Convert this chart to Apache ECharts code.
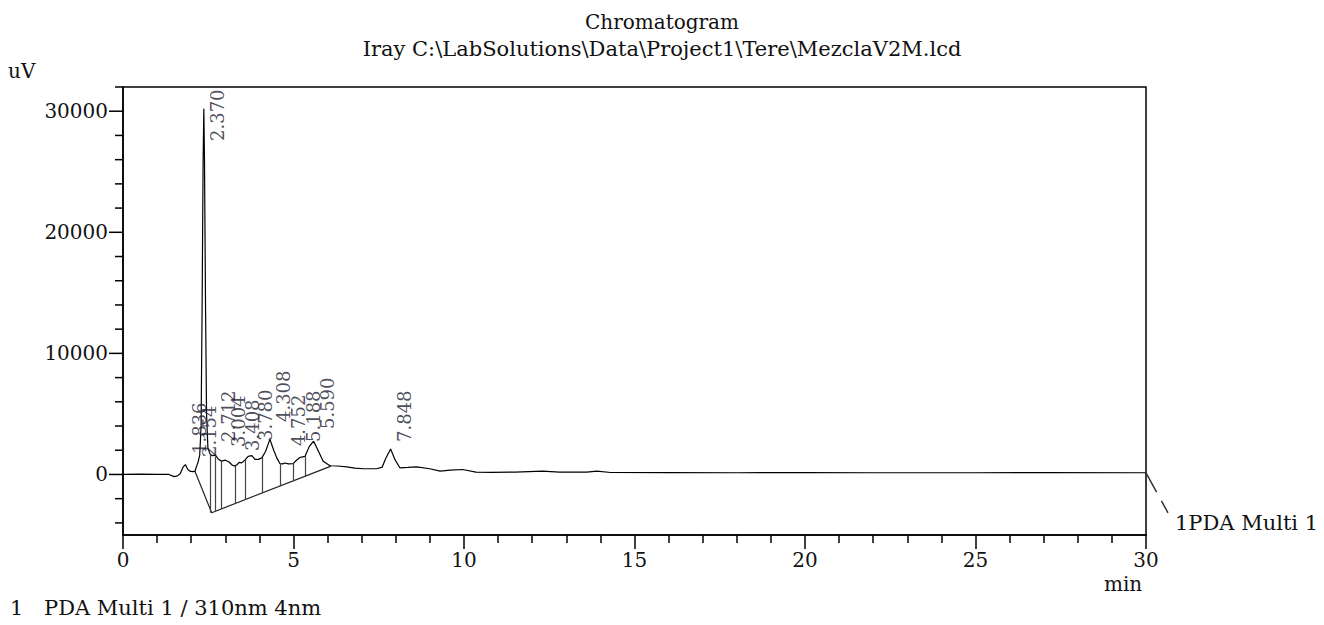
<!DOCTYPE html>
<html>
<head>
<meta charset="utf-8">
<title>Chromatogram</title>
<script src="https://cdn.jsdelivr.net/npm/echarts@6.0.0/dist/echarts.min.js"></script>
<style>
  html, body { margin: 0; padding: 0; background: #fff; }
  #chart { width: 1324px; height: 625px; }
</style>
</head>
<body>
<div id="chart"></div>
<script>
// detector trace: time (min) and signal (uV)
const signalTime = [
  0.00, 0.50, 1.00, 1.35, 1.50, 1.60, 1.68, 1.76, 1.83, 1.90, 1.98, 2.06, 2.11,
  2.154, 2.20, 2.25, 2.29, 2.32, 2.35, 2.37, 2.39, 2.42, 2.45, 2.49, 2.55, 2.62,
  2.712, 2.80, 2.89, 3.004, 3.10, 3.20, 3.28, 3.34, 3.408, 3.48, 3.58, 3.67, 3.78,
  3.87, 3.97, 4.07, 4.18, 4.308, 4.42, 4.51, 4.60, 4.68, 4.752, 4.85, 4.99, 5.08,
  5.188, 5.26, 5.34, 5.46, 5.59, 5.70, 5.87, 6.07, 6.30, 6.56, 6.80, 7.05, 7.44,
  7.60, 7.70, 7.848, 7.98, 8.12, 8.35, 8.61, 9.00, 9.30, 9.60, 9.96, 10.35, 10.80,
  11.50, 12.30, 12.80, 13.60, 13.90, 14.30, 16.00, 18.00, 20.00, 22.00, 25.00,
  27.00, 30.00
];
const signalUv = [
  0, 20, 10, 0, -180, -120, 80, 600, 820, 400, 250, 230, 270,
  650, 1000, 1600, 4000, 14000, 26000, 30200, 26000, 14000, 5000, 2200, 1700, 1550,
  1600, 1250, 1100, 1180, 1050, 780, 690, 800, 1000, 960, 1200, 1500, 1550,
  1240, 1250, 1370, 1900, 2900, 2000, 1370, 900, 870, 950, 880, 900, 1150,
  1400, 1450, 1500, 2300, 2750, 2100, 1100, 720, 700, 630, 520, 470, 470,
  600, 1300, 2100, 1200, 550, 580, 630, 470, 280, 350, 410, 200, 180,
  200, 275, 200, 190, 280, 160, 150, 140, 150, 140, 140,
  150, 140
];

// peak retention times and the level where each label starts
const peakNames = ['1.836', '2.154', '2.370', '2.712', '3.004', '3.408', '3.780', '4.308', '4.752', '5.188', '5.590', '7.848'];
const labelLevel = [1650, 1400, 27500, 2640, 2230, 1900, 2720, 4290, 2300, 2640, 3710, 2640];

// integration baseline drawn under the peak cluster
const baseTime = [2.11, 2.60, 6.10];
const baseUv = [270, -3160, 690];

// vertical drop lines between trace and baseline
const dropTime = [2.57, 2.70, 2.89, 3.28, 3.58, 4.07, 4.60, 4.99, 5.34];
const dropTop = [1650, 1500, 1100, 690, 1200, 1370, 900, 900, 1500];
const dropBottom = [-3150, -3050, -2835, -2415, -2095, -1560, -975, -545, -175];

// axis ticks
const xLabels = [0, 5, 10, 15, 20, 25, 30];
const yLabels = [0, 10000, 20000, 30000];
const yMinor = [-4000, -2000, 2000, 4000, 6000, 8000, 12000, 14000, 16000, 18000,
  22000, 24000, 26000, 28000, 32000];

const FONT = '"DejaVu Serif", "Liberation Serif", serif';
const INK = '#111';
const AXIS = { color: '#000', width: 1.5 };

const chart = echarts.init(document.getElementById('chart'), null, { renderer: 'svg' });

const trace = signalTime.map((t, i) => [t, signalUv[i]]);

chart.setOption({
  animation: false,
  backgroundColor: '#fff',
  title: [
    {
      text: 'Chromatogram',
      left: 'center',
      top: 7,
      textStyle: { fontFamily: FONT, fontSize: 20, fontWeight: 'normal', color: INK }
    },
    {
      text: 'Iray C:\\LabSolutions\\Data\\Project1\\Tere\\MezclaV2M.lcd',
      left: 'center',
      top: 33,
      textStyle: { fontFamily: FONT, fontSize: 21, fontWeight: 'normal', color: INK }
    }
  ],
  grid: {
    left: 123, right: 178, top: 87, bottom: 90,
    show: true,
    borderColor: '#000',
    borderWidth: 1.5
  },
  xAxis: {
    type: 'value',
    min: 0,
    max: 30,
    interval: 5,
    axisLine: { show: true, onZero: false, lineStyle: AXIS },
    axisTick: { show: true, length: 14, lineStyle: AXIS },
    minorTick: { show: true, splitNumber: 5, length: 8, lineStyle: AXIS },
    axisLabel: {
      customValues: xLabels,
      margin: 15,
      fontFamily: FONT, fontSize: 20, color: INK
    },
    splitLine: { show: false }
  },
  yAxis: {
    type: 'value',
    min: -5000,
    max: 32000,
    position: 'left',
    axisLine: { show: true, onZero: false, lineStyle: AXIS },
    axisTick: { show: false },
    axisLabel: {
      customValues: yLabels,
      formatter: v => String(v),
      margin: 15,
      fontFamily: FONT, fontSize: 20, color: INK
    },
    splitLine: { show: false }
  },
  series: [
    {
      name: 'PDA Multi 1',
      type: 'line',
      data: trace,
      showSymbol: false,
      lineStyle: { color: '#000', width: 1.2 },
      z: 4
    },
    {
      name: 'baseline',
      type: 'line',
      data: baseTime.map((t, i) => [t, baseUv[i]]),
      showSymbol: false,
      lineStyle: { color: '#222', width: 1.2 },
      markLine: {
        silent: true,
        symbol: 'none',
        label: { show: false },
        lineStyle: { color: '#444', width: 1.2, type: 'solid' },
        data: dropTime.map((t, i) => [
          { coord: [t, dropTop[i]] },
          { coord: [t, dropBottom[i]] }
        ])
      },
      z: 3
    },
    {
      name: 'peaks',
      type: 'scatter',
      data: peakNames.map((p, i) => ({ name: p, value: [parseFloat(p), labelLevel[i]] })),
      symbolSize: 1,
      itemStyle: { color: 'rgba(0,0,0,0)' },
      label: {
        show: true,
        formatter: '{b}',
        rotate: 90,
        position: [14, 0],
        align: 'left',
        verticalAlign: 'middle',
        fontFamily: FONT,
        fontSize: 18,
        color: '#1a2030'
      },
      z: 5
    }
  ]
});

// y ticks placed through the axis scale: long at labelled values, short between
const axisX = chart.convertToPixel({ gridIndex: 0 }, [0, 0])[0];
const tickLine = (v, len) => {
  const y = chart.convertToPixel({ yAxisIndex: 0 }, v);
  return {
    type: 'line',
    shape: { x1: axisX - len, y1: y, x2: axisX, y2: y },
    style: { stroke: '#000', lineWidth: 1.5 }
  };
};

const endPt = chart.convertToPixel({ gridIndex: 0 }, trace[trace.length - 1]);
chart.setOption({
  graphic: [
    ...yLabels.map(v => tickLine(v, 14)),
    ...yMinor.map(v => tickLine(v, 8)),
    { type: 'text', left: 8, top: 61, style: { text: 'uV', font: '20px ' + FONT, fill: INK } },
    { type: 'text', left: 1104, top: 574, style: { text: 'min', font: '20px ' + FONT, fill: INK } },
    { type: 'text', left: 10, top: 597, style: { text: '1', font: '21px ' + FONT, fill: INK } },
    { type: 'text', left: 44, top: 597, style: { text: 'PDA Multi 1 / 310nm 4nm', font: '21px ' + FONT, fill: INK } },
    {
      type: 'line',
      shape: { x1: endPt[0], y1: endPt[1], x2: endPt[0] + 22, y2: endPt[1] + 40 },
      style: { stroke: '#333', lineWidth: 1.5, lineDash: [22, 10] }
    },
    { type: 'text', left: 1175, top: 512, style: { text: '1PDA Multi 1', font: '21px ' + FONT, fill: INK } }
  ]
});
</script>
</body>
</html>
